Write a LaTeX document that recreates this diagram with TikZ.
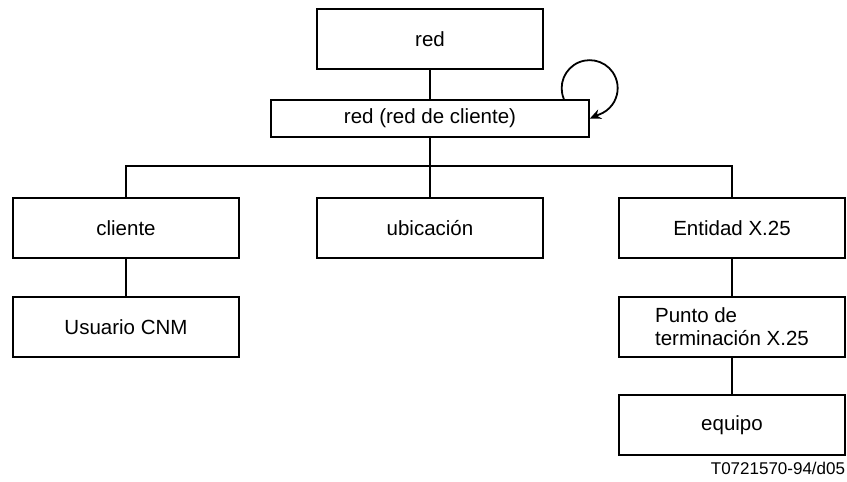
\documentclass[tikz,border=0pt]{standalone}
\usepackage{fontspec}
\setmainfont{Liberation Sans}
\usetikzlibrary{arrows.meta}

\begin{document}
\begin{tikzpicture}[x=1pt,y=1pt,>={Stealth[length=11pt,width=10pt]},line width=1.8pt,
  box/.style={draw,rectangle,minimum width=226pt,minimum height=60pt,inner sep=0pt,
    font=\fontsize{20.5}{23}\selectfont}]
\useasboundingbox (0,0) rectangle (847,-482);
% The boxes
\node[box] (red) at (430,-39) {red};
\node[box,minimum width=318pt,minimum height=37pt] (redcli) at (430,-118.5) {red (red de cliente)};
\node[box] (cliente) at (126,-228) {cliente};
\node[box] (ubic) at (430,-228) {ubicación};
\node[box] (entidad) at (732,-228) {Entidad X.25};
\node[box] (usuario) at (126,-327) {Usuario CNM};
\node[box,align=left] (punto) at (732,-327) {Punto de\\terminación X.25};
\node[box] (equipo) at (732,-425) {equipo};
% The tree lines
\coordinate (bus) at (430,-166);
\draw (red) -- (redcli);
\draw (redcli) -- (bus);
\draw (cliente) |- (bus) -| (entidad);
\draw (ubic) -- (bus);
\draw (cliente) -- (usuario);
\draw (entidad) -- (punto);
\draw (punto) -- (equipo);
% The loop on red de cliente
\draw[->] ([xshift=-26pt]redcli.north east) arc[start angle=203,end angle=-70,radius=28] -- (redcli.east);
% Figure number
\node[anchor=base east,inner sep=0pt,font=\fontsize{17}{20}\selectfont] (fignum) at (846,-474) {T0721570-94/d05};
\end{tikzpicture}
\end{document}
